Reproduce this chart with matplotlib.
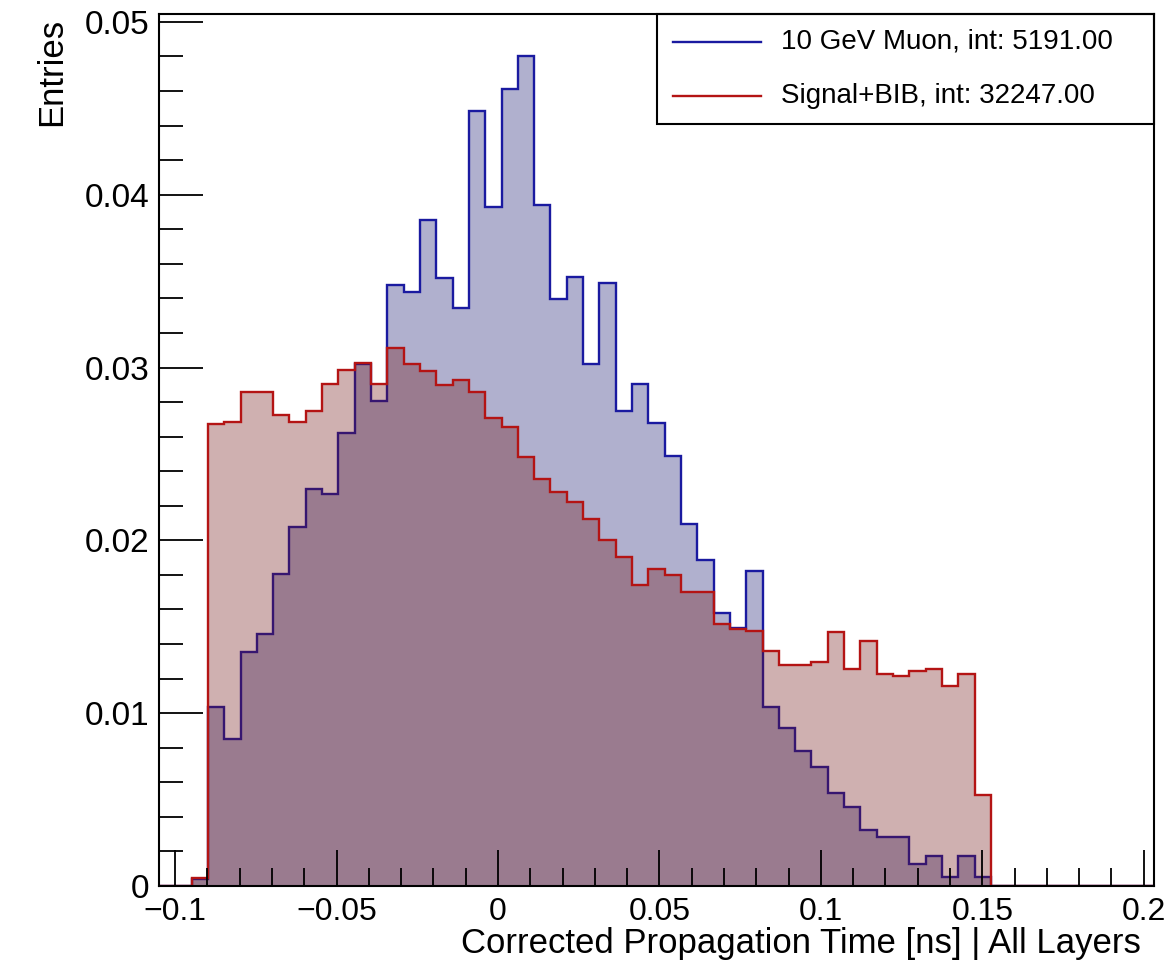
import numpy as np
import matplotlib
matplotlib.use("Agg")
import matplotlib.pyplot as plt
from matplotlib.patches import Rectangle
from matplotlib.lines import Line2D
from matplotlib.ticker import MultipleLocator

plt.rcParams['font.family'] = ['Liberation Sans', 'DejaVu Sans']

# ---- histogram binning (61 bins) ----
x_min, x_max, n_bins = -0.105, 0.2032, 61

# normalised bin contents
muon = [0, 0, 0.0004, 0.01038, 0.00849, 0.01352, 0.01458, 0.01808, 0.02078, 0.02295,
        0.02268, 0.02619, 0.03018, 0.02808, 0.03476, 0.03437, 0.03855, 0.03518, 0.03345, 0.04482,
        0.03927, 0.04613, 0.04805, 0.03938, 0.03399, 0.03522, 0.03023, 0.03489, 0.02746, 0.02907,
        0.02677, 0.02489, 0.02092, 0.01889, 0.01579, 0.01494, 0.01822, 0.01038, 0.00916, 0.00783,
        0.00688, 0.00538, 0.00458, 0.00322, 0.00283, 0.00283, 0.00129, 0.00173, 0.00052, 0.00173,
        0.00052, 0, 0, 0, 0, 0, 0, 0, 0, 0, 0]

sig_bib = [0, 0, 0.00045, 0.02674, 0.02686, 0.0286, 0.0286, 0.02727, 0.02686, 0.02751,
           0.02903, 0.02984, 0.03025, 0.02907, 0.03114, 0.03023, 0.02979, 0.02896, 0.02927, 0.02859,
           0.02709, 0.02655, 0.02482, 0.02357, 0.02279, 0.02221, 0.02125, 0.02004, 0.01903, 0.01741,
           0.01833, 0.01798, 0.01701, 0.01701, 0.01514, 0.01488, 0.01474, 0.01362, 0.01281, 0.01281,
           0.01296, 0.01469, 0.01253, 0.01416, 0.01227, 0.01214, 0.01243, 0.01256, 0.0116, 0.01227,
           0.00528, 0, 0, 0, 0, 0, 0, 0, 0, 0, 0]

labels = ["10 GeV Muon, int: 5191.00", "Signal+BIB, int: 32247.00"]
x_title = "Corrected Propagation Time [ns] | All Layers"
y_title = "Entries"

blue_line, blue_fill = "#1a1aa0", (0.06, 0.06, 0.42, 0.33)
red_line, red_fill = "#b41414", (0.44, 0.06, 0.06, 0.33)

edges = np.linspace(x_min, x_max, n_bins + 1)

fig = plt.figure(figsize=(11.67, 9.73), dpi=100)
ax = fig.add_axes([0.1362, 0.0894, 0.8527, 0.8962])

# blue first, red drawn "same" on top (ROOT order)
ax.stairs(muon, edges, fill=True, color=blue_fill, lw=0)
ax.stairs(muon, edges, color=blue_line, lw=1.7)
ax.stairs(sig_bib, edges, fill=True, color=red_fill, lw=0)
ax.stairs(sig_bib, edges, color=red_line, lw=1.7)

ax.set_xlim(x_min, x_max)
ax.set_ylim(0, 1.05 * max(muon))

ax.xaxis.set_major_locator(MultipleLocator(0.05))
ax.xaxis.set_minor_locator(MultipleLocator(0.01))
ax.yaxis.set_major_locator(MultipleLocator(0.01))
ax.yaxis.set_minor_locator(MultipleLocator(0.002))
ax.xaxis.set_major_formatter(plt.FuncFormatter(lambda v, p: "0" if abs(v) < 1e-9 else f"{v:g}".replace("-", "\u2212")))
ax.yaxis.set_major_formatter(plt.FuncFormatter(lambda v, p: "0" if abs(v) < 1e-9 else f"{v:.2f}"))

ax.tick_params(axis='x', which='major', direction='in', length=26, width=1.3, labelsize=23, pad=8)
ax.tick_params(axis='x', which='minor', direction='in', length=13, width=1.3)
ax.tick_params(axis='y', which='major', direction='in', length=32, width=1.3, labelsize=24, pad=7)
ax.tick_params(axis='y', which='minor', direction='in', length=17, width=1.3)
for s in ax.spines.values():
    s.set_linewidth(1.5)

ax.set_xlabel(x_title, fontsize=25, ha='right', x=0.987, labelpad=0)
ax.set_ylabel(y_title, fontsize=25, ha='right', y=0.995, labelpad=12)

# legend box (ROOT TLegend style, lines only)
ax.add_patch(Rectangle((0.5005, 0.874), 0.4995, 0.126, transform=ax.transAxes,
                       fill=False, ec='black', lw=1.5, clip_on=False, zorder=5))
for i, (lab, col) in enumerate(zip(labels, [blue_line, red_line])):
    yy = 0.968 - i * 0.0625
    ax.add_line(Line2D([0.517, 0.605], [yy, yy], transform=ax.transAxes, color=col, lw=1.7, zorder=6))
    ax.text(0.625, yy, lab, transform=ax.transAxes, fontsize=20, va='center', ha='left', zorder=6)

fig.savefig("out.png", dpi=100)
